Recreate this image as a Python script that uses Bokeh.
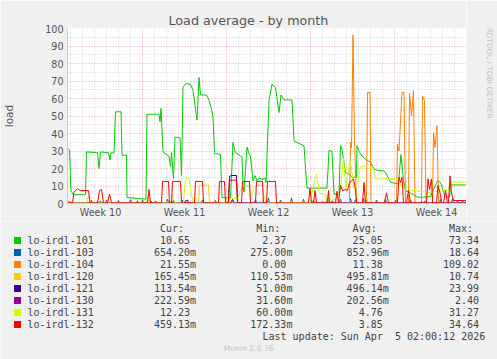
from bokeh.plotting import figure
from bokeh.models import Range1d, FixedTicker, Grid
from bokeh.layouts import column, row
from bokeh.core.properties import value
from bokeh.embed import file_html
from bokeh.resources import INLINE
import math

# ---------------- data (hours since start of graph, load values) ----------------
t101 = [0, 4, 7, 12, 36, 38, 60, 63, 66, 82, 85, 87, 93, 96, 107, 109, 118, 119, 157, 159, 183, 185, 187, 191,
        203, 206, 208, 212, 215, 225, 228, 231, 238, 246, 251, 259, 263, 266, 278, 283, 287, 291, 294, 306, 309,
        326, 331, 335, 349, 351, 353, 359, 363, 366, 371, 375, 379, 383, 389, 395, 397, 403, 409, 416, 423, 427,
        433, 449, 453, 463, 473, 476, 479, 519, 523, 529, 533, 543, 546, 549, 556, 563, 569, 578, 579, 583, 589,
        599, 606, 613, 619, 633, 636, 646, 659, 662, 667, 672, 676, 686, 700, 712, 726, 740, 746, 754, 759, 764,
        766, 796, 798]
v101 = [31.4, 30.5, 7.2, 5, 5, 29.5, 29, 20, 29.5, 29, 24.8, 29, 29, 52.4, 52.4, 27.6, 27.6, 3.4, 2.5, 51, 51,
        46.7, 54.3, 29.5, 27, 21, 29, 14.3, 38, 37.5, 16, 66.7, 68.6, 68, 64.8, 47.6, 72, 62, 62, 59, 55, 49.5,
        28.6, 28, 3.4, 3.2, 35, 29.3, 26.5, 11, 6.5, 32.2, 28.4, 27, 12.9, 15.9, 12.9, 14.6, 13.7, 14.6, 12, 58.7,
        68.2, 66.3, 52, 62, 59.2, 59.2, 35.8, 34.3, 33, 20, 8.8, 8.8, 30.3, 30, 5.3, 5.3, 33.3, 31, 17.7, 16.8,
        15, 15, 33, 30, 27, 24.6, 23.7, 19.8, 19, 18.5, 17.7, 12.2, 11.2, 12, 28, 13, 7.4, 6, 3.6, 3.6, 4, 13,
        12, 5, 3.6, 3.6, 10.6, 10.6, 10.65]

t103 = [0, 46, 48, 50, 64, 66, 68, 76, 78, 80, 100, 102, 104, 124, 126, 128, 138, 140, 142, 148, 150, 152, 174,
        176, 178, 198, 200, 202, 228, 230, 232, 268, 270, 272, 294, 296, 298, 328, 330, 332, 374, 376, 378, 400,
        402, 404, 424, 426, 428, 446, 448, 450, 470, 472, 474, 490, 492, 494, 518, 520, 522, 544, 546, 548, 564,
        566, 568, 574, 576, 578, 590, 592, 594, 616, 618, 620, 634, 636, 638, 654, 656, 658, 684, 686, 688, 712,
        714, 716, 744, 746, 748, 768, 770, 772, 778, 780, 782, 788, 790, 792, 798]
v103 = [0.5, 0.4, 1.8, 0.4, 0.4, 1.5, 0.4, 0.4, 2, 0.4, 0.4, 1.7, 0.4, 0.4, 2.2, 0.4, 0.4, 1.5, 0.4, 0.4, 2, 0.4,
        0.4, 1.5, 0.4, 0.4, 2.5, 0.4, 0.4, 2, 0.4, 0.4, 2, 0.4, 0.4, 1.7, 0.4, 0.4, 2, 0.4, 0.4, 2.3, 0.4, 0.4,
        3, 0.4, 0.4, 2, 0.4, 0.4, 3.2, 0.4, 0.4, 2.5, 0.4, 0.4, 2, 0.4, 0.4, 2.8, 0.4, 0.4, 2.5, 0.4, 0.4, 3,
        0.4, 0.4, 2.2, 0.4, 0.4, 2.8, 0.4, 0.4, 2, 0.4, 0.4, 2.5, 0.4, 0.4, 1.8, 0.4, 0.4, 2, 0.4, 0.4, 1.5, 0.4,
        0.4, 2.4, 0.4, 0.4, 2.8, 0.4, 0.4, 1.5, 0.4, 0.4, 2, 0.4, 0.65]

t104 = [0, 506, 510, 514, 564, 566, 568, 571, 574, 578, 598, 600, 605, 607, 658, 660, 663, 669, 673, 676, 682,
        684, 688, 692, 695, 708, 710, 714, 717, 730, 732, 735, 739, 742, 798]
v104 = [0, 0, 1.5, 0, 0, 35, 32, 96.4, 36, 0.5, 0, 63.4, 63.4, 0.5, 0, 34, 30, 63.4, 63.4, 0.5, 0, 63, 50, 64.4,
        0.5, 0, 61.5, 58.7, 0.5, 0, 40.6, 32, 44.4, 0.5, 0.02]

t120 = [0, 38, 42, 46, 158, 162, 166, 262, 264, 282, 284, 316, 320, 324, 516, 520, 524, 594, 598, 602, 798]
v120 = [0.3, 0.3, 4.6, 0.3, 0.3, 4, 0.3, 0.3, 10.5, 10.5, 0.3, 0.3, 4, 0.3, 0.3, 5, 0.3, 0.3, 3, 0.3, 0.17]

t121 = [0, 210, 212, 214, 234, 236, 240, 242, 318, 322, 324, 328, 338, 340, 342, 798]
v121 = [0.1, 0.1, 2, 0.1, 0.1, 1.5, 2, 0.1, 0.1, 1.5, 15.5, 16, 16, 1, 0.1, 0.11]

t130 = [0, 166, 168, 170, 326, 330, 334, 526, 530, 532, 706, 708, 710, 798]
v130 = [0.2, 0.2, 1.2, 0.2, 0.2, 2.4, 0.2, 0.2, 1.5, 0.2, 0.2, 1, 0.2, 0.22]

t131 = [0, 206, 210, 214, 232, 235, 238, 243, 248, 252, 322, 326, 342, 346, 352, 362, 366, 372, 378, 390, 394,
        398, 486, 492, 498, 504, 514, 522, 538, 546, 552, 557, 562, 566, 570, 574, 580, 586, 596, 602, 610, 616,
        636, 656, 662, 676, 686, 706, 726, 740, 762, 765, 798]
v131 = [0.2, 0.2, 4.8, 0.2, 0.2, 12, 14.9, 14, 5, 0.2, 0.2, 3, 3, 8, 10, 10.5, 3, 8, 10.5, 10, 3, 0.2, 0.5, 10,
        16.8, 6, 5, 1, 3, 8, 26, 8, 20, 24, 15, 8, 12, 21, 21.5, 20, 21, 14, 14.1, 14.1, 12, 8, 7.4, 7, 6.3, 7,
        7.5, 12.2, 12.23]

t132 = [0, 10, 13, 20, 26, 42, 45, 60, 64, 68, 72, 80, 84, 88, 160, 163, 166, 188, 190, 202, 204, 208, 210, 226,
        228, 254, 256, 270, 272, 302, 304, 314, 316, 322, 324, 338, 340, 348, 350, 364, 366, 376, 378, 390, 392,
        398, 400, 416, 418, 482, 485, 488, 492, 495, 498, 520, 522, 524, 536, 539, 542, 546, 550, 556, 560, 564,
        568, 572, 576, 578, 590, 593, 596, 634, 638, 642, 660, 663, 666, 669, 672, 678, 682, 686, 718, 721, 724,
        728, 730, 738, 741, 746, 748, 752, 756, 760, 762, 765, 768, 772, 796, 798]
v132 = [1, 0.5, 6.5, 8.4, 7.4, 7.4, 0.3, 0.3, 7.4, 8, 0.3, 0.3, 5.4, 0.3, 0.3, 8, 0.3, 0.3, 12.6, 12.6, 0.3,
        0.3, 12.6, 12.6, 0.3, 0.3, 12.6, 12.6, 0.3, 0.3, 12.6, 12.6, 0.3, 0.3, 13.3, 13.3, 0.3, 0.3, 12.6, 12.6,
        0.3, 0.3, 12.6, 12.6, 0.3, 0.3, 12.6, 12.6, 0.3, 0.3, 8.6, 0.3, 0.3, 7.4, 0.3, 0.3, 7.4, 0.3, 0.3, 7,
        0.3, 10.5, 7.4, 8, 7.4, 12, 13, 14, 8, 0.3, 0.3, 12, 0.3, 0.3, 6.1, 0.3, 0.3, 15, 12, 15, 0.3, 0.3, 7.4,
        0.3, 0.3, 14.1, 8, 14, 0.3, 0.3, 10.3, 5, 0.3, 0.3, 7.4, 0.3, 0.3, 15.8, 6, 1.7, 1.7, 0.46]

series_names = ["lo-irdl-101", "lo-irdl-103", "lo-irdl-104", "lo-irdl-120",
                "lo-irdl-121", "lo-irdl-130", "lo-irdl-131", "lo-irdl-132"]
series_colors = ["#00CC00", "#0066B3", "#FF8000", "#FFCC00", "#330099", "#990099", "#CCFF00", "#FF0000"]
series_t = [t101, t103, t104, t120, t121, t130, t131, t132]
series_v = [v101, v103, v104, v120, v121, v130, v131, v132]

cur_vals = ["10.65", "654.20m", "21.55m", "165.45m", "113.54m", "222.59m", "12.23", "459.13m"]
min_vals = ["2.37", "275.00m", "0.00", "110.53m", "51.00m", "31.60m", "60.00m", "172.33m"]
avg_vals = ["25.05", "852.96m", "11.38", "495.81m", "496.14m", "202.56m", "4.76", "3.85"]
max_vals = ["73.34", "18.64", "109.02", "10.74", "23.99", "2.40", "31.27", "34.64"]

week_numbers = [10, 11, 12, 13, 14]
week_start_hours = [-18, 150, 318, 486, 654]
y_ticks = [0, 10, 20, 30, 40, 50, 60, 70, 80, 90, 100]

title_text = "Load average - by month"
y_label = "load"
side_text = "RRDTOOL / TOBI OETIKER"
last_update = "Last update: Sun Apr  5 02:00:12 2026"
footer = "Munin 2.0.76"

BG = "#F0F0F0"
TXT = "#555555"
NB = "\u00A0"

# ---------------- main chart (page px 0..466 x 0..221) ----------------
T_END = 798
p = figure(width=466, height=221, output_backend="svg", toolbar_location=None,
           x_range=Range1d(0, T_END), y_range=Range1d(0, 100), title=title_text,
           min_border_left=67, min_border_right=0, min_border_top=28, min_border_bottom=18)
p.background_fill_color = "white"
p.border_fill_color = BG
p.outline_line_color = None
p.grid.visible = False

p.title.align = "left"
p.title.offset = 101
p.title.text_font = "DejaVu Sans"
p.title.text_font_size = "12.7px"
p.title.text_font_style = "normal"
p.title.text_color = TXT
p.title.standoff = 1

# grids
day_lines = [h for h in range(6, T_END + 1, 24) if h not in week_start_hours]
p.add_layout(Grid(dimension=0, ticker=FixedTicker(ticks=day_lines),
                  grid_line_color="#cfcfcf", grid_line_dash="1 2"))
p.add_layout(Grid(dimension=1, ticker=FixedTicker(ticks=[y + 5 for y in y_ticks[:-1]]),
                  grid_line_color="#cfcfcf", grid_line_dash="1 2"))
p.add_layout(Grid(dimension=0, ticker=FixedTicker(ticks=[h for h in week_start_hours if h > 0]),
                  grid_line_color="#e8a4a4", grid_line_dash="1 2"))
p.add_layout(Grid(dimension=1, ticker=FixedTicker(ticks=y_ticks[1:]),
                  grid_line_color="#e8a4a4", grid_line_dash="1 2"))

# axes
week_centers = [s + 84 for s in week_start_hours]
p.xaxis.ticker = FixedTicker(ticks=week_centers)
p.xaxis.major_label_overrides = {c: f"Week {n}" for c, n in zip(week_centers, week_numbers)}
p.yaxis.ticker = FixedTicker(ticks=y_ticks)
for ax in (p.xaxis[0], p.yaxis[0]):
    ax.axis_line_color = "#c8c8f4"
    ax.major_tick_line_color = None
    ax.minor_tick_line_color = None
    ax.major_tick_out = 0
    ax.major_tick_in = 0
    ax.minor_tick_out = 0
    ax.minor_tick_in = 0
    ax.major_label_text_font = "DejaVu Sans"
    ax.major_label_text_font_size = "9.6px"
    ax.major_label_text_color = TXT
p.xaxis.major_label_standoff = 3
p.yaxis.major_label_standoff = 4
p.yaxis.axis_label = y_label
p.yaxis.axis_label_text_font = "DejaVu Sans"
p.yaxis.axis_label_text_font_size = "10.5px"
p.yaxis.axis_label_text_font_style = "normal"
p.yaxis.axis_label_text_color = TXT
p.yaxis.axis_label_standoff = 27

for t, v, c in zip(series_t, series_v, series_colors):
    p.line(t, v, line_color=c, line_width=1)

# ---------------- right strip with the rrdtool watermark (page px 466..497) ----------------
s = figure(width=31, height=221, output_backend="svg", toolbar_location=None,
           x_range=Range1d(466, 497), y_range=Range1d(221, 0),
           min_border_left=0, min_border_right=0, min_border_top=0, min_border_bottom=0)
s.axis.visible = False
s.grid.visible = False
s.outline_line_color = None
s.background_fill_color = BG
s.border_fill_color = BG
s.text(x=[489], y=[53], text=[side_text], angle=-math.pi / 2, text_align="center", text_baseline="middle",
       text_font=value("DejaVu Sans"), text_font_size=value("7.5px"), text_color="#c4c4c4")

# ---------------- legend / stats table (page px 0..497 x 221..359) ----------------
q = figure(width=497, height=138, output_backend="svg", toolbar_location=None,
           x_range=Range1d(0, 497), y_range=Range1d(359, 221),
           min_border_left=0, min_border_right=0, min_border_top=0, min_border_bottom=0)
q.axis.visible = False
q.grid.visible = False
q.outline_line_color = None
q.background_fill_color = BG
q.border_fill_color = BG


def field(v):
    if v.endswith("m"):
        return v[:-1].rjust(6) + "m"
    return v.rjust(6) + " "


header = " " * 22 + "Cur:" + " " * 12 + "Min:" + " " * 12 + "Avg:" + " " * 12 + "Max:"
rows = [header]
row_y = [228]
for i, name in enumerate(series_names):
    rows.append(name.ljust(21) + field(cur_vals[i]) + " " * 9 + field(min_vals[i]) + " " * 9 +
                field(avg_vals[i]) + " " * 9 + field(max_vals[i]))
    row_y.append(240 + 12 * i)
rows = [r.rstrip().replace(" ", NB) for r in rows]

mono = dict(text_font=value("DejaVu Sans Mono"), text_font_size=value("10px"), text_color="#444444",
            text_baseline="middle")
q.text(x=[27] * len(rows), y=row_y, text=rows, text_align="left", **mono)
q.scatter(x=[17] * len(series_names), y=row_y[1:], marker="square", size=7,
          fill_color=series_colors, line_color=None)
q.text(x=[262], y=[336], text=[last_update.replace(" ", NB)], text_align="left", **mono)
q.text(x=[248], y=[348], text=[footer], text_align="center", text_baseline="middle",
       text_font=value("DejaVu Sans"), text_font_size=value("7.6px"), text_color="#c4c4c4")

layout = column(row(p, s, spacing=0), q, spacing=0)
open("out.html", "w").write(file_html(layout, INLINE))
